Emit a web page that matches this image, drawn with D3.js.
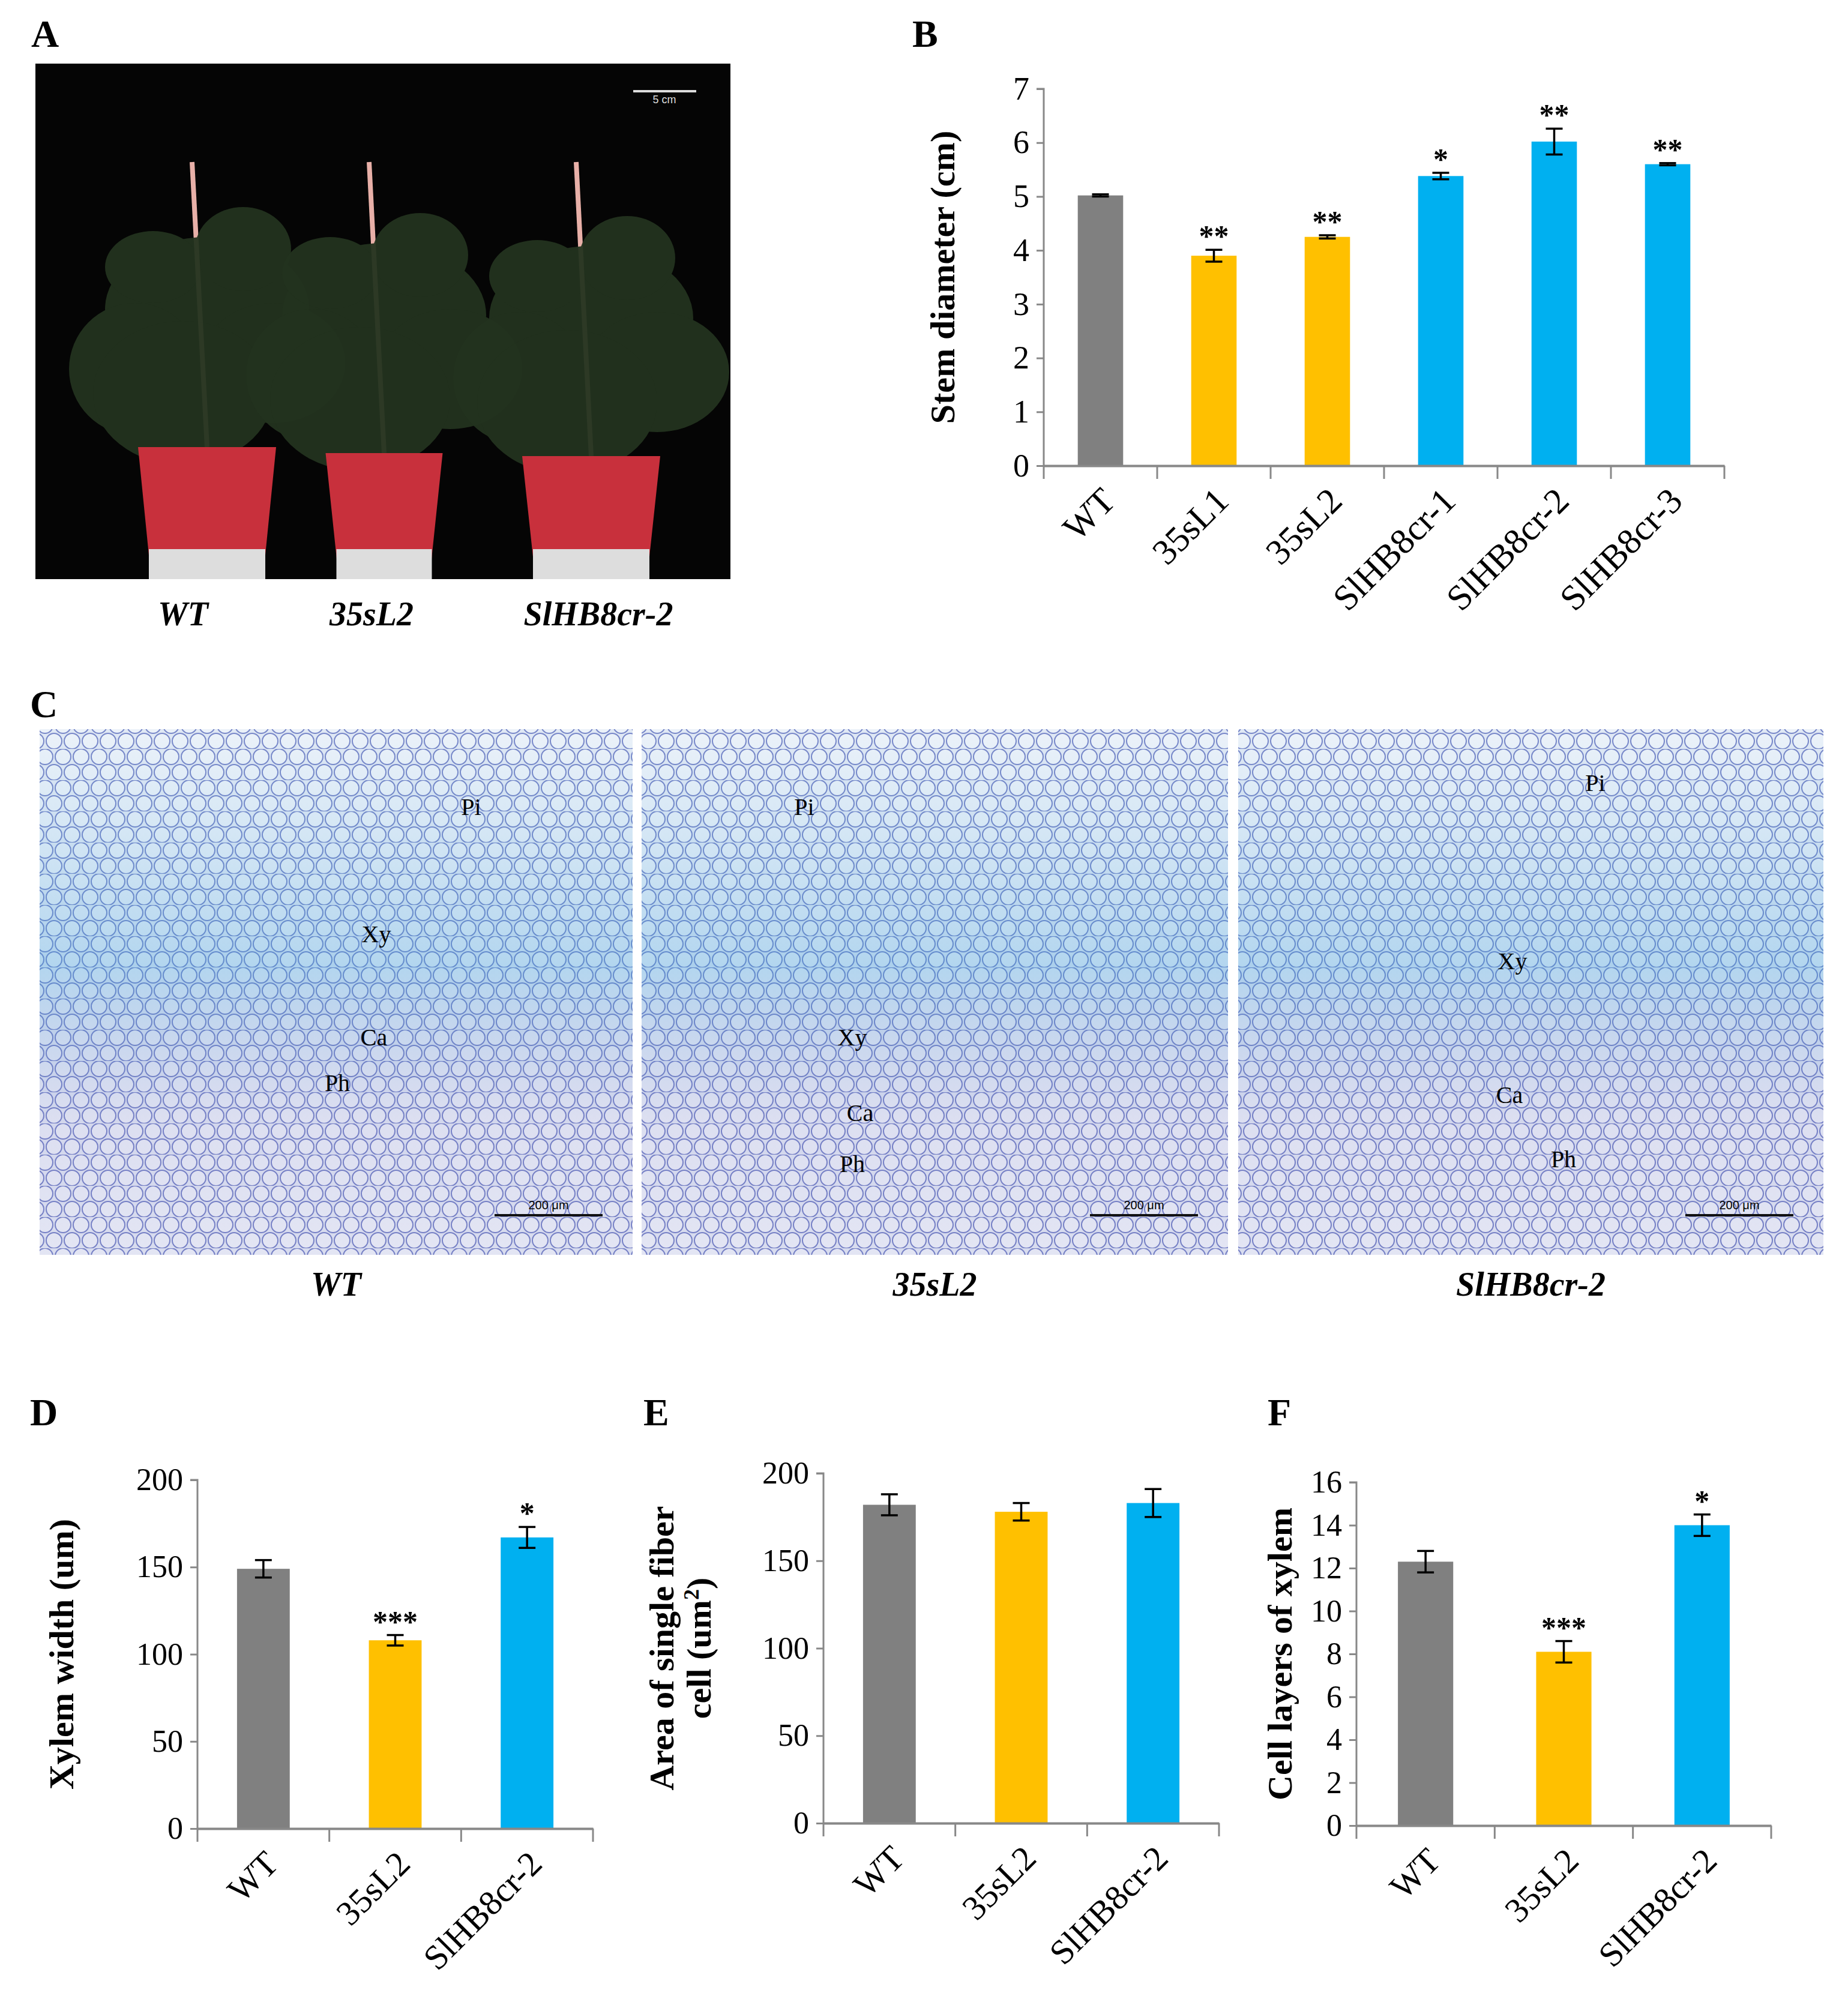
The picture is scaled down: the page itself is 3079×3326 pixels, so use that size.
<!DOCTYPE html>
<html><head><meta charset="utf-8">
<script src="https://d3js.org/d3.v7.min.js"></script>
<style>body{margin:0;background:#fff}svg{display:block}</style>
</head><body>
<svg id="fig" width="3079" height="3326"></svg>
<script>
const colors = {WT:"#808080", OE:"#FFC000", CR:"#00B0F0"};
// Panel B
const bCats = ["WT","35sL1","35sL2","SlHB8cr-1","SlHB8cr-2","SlHB8cr-3"];
const bVals = [5.02,3.90,4.25,5.38,6.02,5.60];
const bErr  = [0.02,0.11,0.03,0.06,0.24,0.02];
const bSig  = ["","**","**","*","**","**"];
const bGrp  = ["WT","OE","OE","CR","CR","CR"];
const bTicks = [0,1,2,3,4,5,6,7];
// Panel D
const dCats = ["WT","35sL2","SlHB8cr-2"];
const dVals = [149,108,167];
const dErr  = [5,3,6];
const dSig  = ["","***","*"];
const dTicks = [0,50,100,150,200];
// Panel E
const eVals = [182,178,183];
const eErr  = [6,5,8];
const eSig  = ["","",""];
const eTicks = [0,50,100,150,200];
// Panel F
const fVals = [12.3,8.1,14.0];
const fErr  = [0.5,0.5,0.5];
const fSig  = ["","***","*"];
const fTicks = [0,2,4,6,8,10,12,14,16];
const grp3 = ["WT","OE","CR"];

const svg = d3.select("#fig");
const FONT = "Liberation Serif, Times New Roman, serif";

function letter(t,x,y){svg.append("text").attr("x",x).attr("y",y).attr("font-family",FONT)
  .attr("font-weight","bold").attr("font-size",64).text(t);}

function barChart(o){
  const g = svg.append("g");
  const x = d3.scaleBand().domain(o.cats).range([o.x0,o.x1]).paddingInner(0.6).paddingOuter(0.3);
  const y = d3.scaleLinear().domain([0,o.max]).range([o.y0,o.y1]);
  const bands = d3.scaleBand().domain(o.cats).range([o.x0,o.x1]);
  g.selectAll("rect.bar").data(o.cats).join("rect").attr("x",d=>x(d)).attr("width",x.bandwidth())
    .attr("y",(d,i)=>y(o.vals[i])).attr("height",(d,i)=>y(0)-y(o.vals[i]))
    .attr("fill",(d,i)=>colors[o.grp[i]]);
  const cap = 14;
  o.cats.forEach((c,i)=>{
    const cx = x(c)+x.bandwidth()/2, hi=y(o.vals[i]+o.err[i]), lo=y(o.vals[i]-o.err[i]);
    g.append("line").attr("x1",cx).attr("x2",cx).attr("y1",hi).attr("y2",lo).attr("stroke","#000").attr("stroke-width",3.5);
    [hi,lo].forEach(v=>g.append("line").attr("x1",cx-cap).attr("x2",cx+cap).attr("y1",v).attr("y2",v).attr("stroke","#000").attr("stroke-width",3.5));
    if(o.sig[i]) g.append("text").attr("x",cx).attr("y",hi-6).attr("text-anchor","middle")
      .attr("font-family",FONT).attr("font-weight","bold").attr("font-size",50).text(o.sig[i]);
  });
  const ya = g.append("g").attr("transform",`translate(${o.x0},0)`)
    .call(d3.axisLeft(y).tickValues(o.ticks).tickSize(12).tickPadding(12).tickFormat(d3.format("d")));
  ya.select(".domain").attr("stroke","#888").attr("stroke-width",3).attr("d",`M-12,${o.y1}H0V${o.y0}`);
  ya.selectAll(".tick line").attr("stroke","#888").attr("stroke-width",3);
  ya.selectAll("text").attr("font-family",FONT).attr("font-size",o.tfs||52).attr("fill","#000");
  const xa = g.append("g").attr("transform",`translate(0,${o.y0})`)
    .call(d3.axisBottom(bands).tickSize(0).tickFormat(""));
  xa.select(".domain").attr("stroke","#888").attr("stroke-width",4);
  bands.domain().concat(["__end"]).forEach((c,i)=>{
    const xx = i<o.cats.length? bands(c) : o.x1;
    g.append("line").attr("x1",xx).attr("x2",xx).attr("y1",o.y0).attr("y2",o.y0+22).attr("stroke","#888").attr("stroke-width",3);
  });
  o.cats.forEach((c,i)=>{
    const cx = bands(c)+bands.bandwidth()/2;
    g.append("text").attr("transform",`translate(${cx+28},${o.y0+62}) rotate(-45)`)
      .attr("text-anchor","end").attr("font-family",FONT).attr("font-size",o.lfs||58).text(c);
  });
  const t = g.append("text").attr("transform",`translate(${o.tx},${(o.y0+o.y1)/2}) rotate(-90)`)
    .attr("text-anchor","middle").attr("font-family",FONT).attr("font-weight","bold").attr("font-size",58);
  o.title.forEach((line,k)=>{
    const ts=t.append("tspan").attr("x",0).attr("dy",k?62:0);
    line.forEach(p=>{ const s=ts.append("tspan").text(p.t); if(p.sup) s.attr("baseline-shift","super").attr("font-size",36); });
  });
}

// ---------- Panel A ----------
letter("A",52,78);
svg.append("rect").attr("x",59).attr("y",106).attr("width",1158).attr("height",859).attr("fill","#050505");
svg.append("line").attr("x1",1055).attr("x2",1160).attr("y1",152).attr("y2",152).attr("stroke","#ddd").attr("stroke-width",4);
svg.append("text").attr("x",1107).attr("y",172).attr("text-anchor","middle").attr("fill","#ddd").attr("font-family","Liberation Sans").attr("font-size",18).text("5 cm");
const pots=[{cx:345,w:230,top:745},{cx:640,w:195,top:755},{cx:985,w:230,top:760}];
pots.forEach(p=>{
  svg.append("line").attr("x1",p.cx-25).attr("x2",p.cx).attr("y1",270).attr("y2",p.top).attr("stroke","#e8b0a8").attr("stroke-width",8);
  const fol=svg.append("g").attr("fill","#23331f").attr("opacity",0.95);
  [[0,-230,170,120],[-120,-130,110,110],[110,-140,120,100],[-40,-90,150,120],[60,-330,80,70],[-90,-300,80,60]].forEach(a=>
    fol.append("ellipse").attr("cx",p.cx+a[0]).attr("cy",p.top+a[1]).attr("rx",a[2]).attr("ry",a[3]));
  svg.append("path").attr("d",`M${p.cx-p.w/2},${p.top}H${p.cx+p.w/2}L${p.cx+p.w/2-22},965H${p.cx-p.w/2+22}Z`).attr("fill","#c8303c");
  svg.append("rect").attr("x",p.cx-p.w/2+18).attr("y",915).attr("width",p.w-36).attr("height",50).attr("fill","#ddd");
});
[["WT",305],["35sL2",619],["SlHB8cr-2",997]].forEach(d=>svg.append("text").attr("x",d[1]).attr("y",1042)
  .attr("text-anchor","middle").attr("font-family",FONT).attr("font-weight","bold").attr("font-style","italic").attr("font-size",56).text(d[0]));

// ---------- Panel B ----------
letter("B",1520,78);
barChart({cats:bCats,vals:bVals,err:bErr,sig:bSig,grp:bGrp,ticks:bTicks,max:7,
  x0:1739,x1:2873,y0:776,y1:148,tx:1590,title:[[{t:"Stem diameter (cm)"}]],tfs:54,lfs:60});

// ---------- Panel C ----------
letter("C",50,1195);
const defs=svg.append("defs");
const pat=defs.append("pattern").attr("id","cells").attr("width",60).attr("height",52).attr("patternUnits","userSpaceOnUse");
pat.append("rect").attr("width",60).attr("height",52).attr("fill","#e8ecf6");
[[15,13,13],[45,13,13],[0,39,13],[30,39,13],[60,39,13]].forEach(c=>pat.append("circle").attr("cx",c[0]).attr("cy",c[1]).attr("r",c[2])
  .attr("fill","#f4f6fb").attr("stroke","#7b86c8").attr("stroke-width",2));
const grad=defs.append("linearGradient").attr("id","stain").attr("x1",0).attr("y1",0).attr("x2",0).attr("y2",1);
grad.append("stop").attr("offset","0").attr("stop-color","#4aa3d8").attr("stop-opacity",0.05);
grad.append("stop").attr("offset","0.45").attr("stop-color","#3a9ad8").attr("stop-opacity",0.35);
grad.append("stop").attr("offset","0.75").attr("stop-color","#5a5fb8").attr("stop-opacity",0.15);
grad.append("stop").attr("offset","1").attr("stop-color","#4a4fb0").attr("stop-opacity",0.1);
const micro=[{x:66,w:988,lab:[["Pi",785,1358],["Xy",627,1570],["Ca",623,1742],["Ph",562,1818]],cap:"WT"},
 {x:1069,w:977,lab:[["Pi",1340,1358],["Xy",1420,1742],["Ca",1433,1868],["Ph",1420,1953]],cap:"35sL2"},
 {x:2063,w:975,lab:[["Pi",2658,1318],["Xy",2520,1615],["Ca",2515,1838],["Ph",2605,1945]],cap:"SlHB8cr-2"}];
micro.forEach(m=>{
  svg.append("rect").attr("x",m.x).attr("y",1215).attr("width",m.w).attr("height",876).attr("fill","url(#cells)");
  svg.append("rect").attr("x",m.x).attr("y",1215).attr("width",m.w).attr("height",876).attr("fill","url(#stain)");
  m.lab.forEach(l=>svg.append("text").attr("x",l[1]).attr("y",l[2]).attr("text-anchor","middle").attr("font-family",FONT).attr("font-size",40).text(l[0]));
  const sx=m.x+m.w-230;
  svg.append("line").attr("x1",sx).attr("x2",sx+180).attr("y1",2025).attr("y2",2025).attr("stroke","#111").attr("stroke-width",4);
  svg.append("text").attr("x",sx+90).attr("y",2015).attr("text-anchor","middle").attr("font-family","Liberation Sans").attr("font-size",20).text("200 μm");
  svg.append("text").attr("x",m.x+m.w/2).attr("y",2159).attr("text-anchor","middle").attr("font-family",FONT)
    .attr("font-weight","bold").attr("font-style","italic").attr("font-size",56).text(m.cap);
});

// ---------- Panels D, E, F ----------
letter("D",50,2375); letter("E",1072,2375); letter("F",2112,2375);
barChart({cats:dCats,vals:dVals,err:dErr,sig:dSig,grp:grp3,ticks:dTicks,max:200,
  x0:329,x1:988,y0:3047,y1:2466,tx:122,title:[[{t:"Xylem width (um)"}]]});
barChart({cats:dCats,vals:eVals,err:eErr,sig:eSig,grp:grp3,ticks:eTicks,max:200,
  x0:1372,x1:2031,y0:3038,y1:2455,tx:1122,title:[[{t:"Area of single fiber"}],[{t:"cell (um"},{t:"2",sup:true},{t:")"}]]});
barChart({cats:dCats,vals:fVals,err:fErr,sig:fSig,grp:grp3,ticks:fTicks,max:16,
  x0:2260,x1:2951,y0:3042,y1:2470,tx:2152,title:[[{t:"Cell layers of xylem"}]]});
</script></body></html>
